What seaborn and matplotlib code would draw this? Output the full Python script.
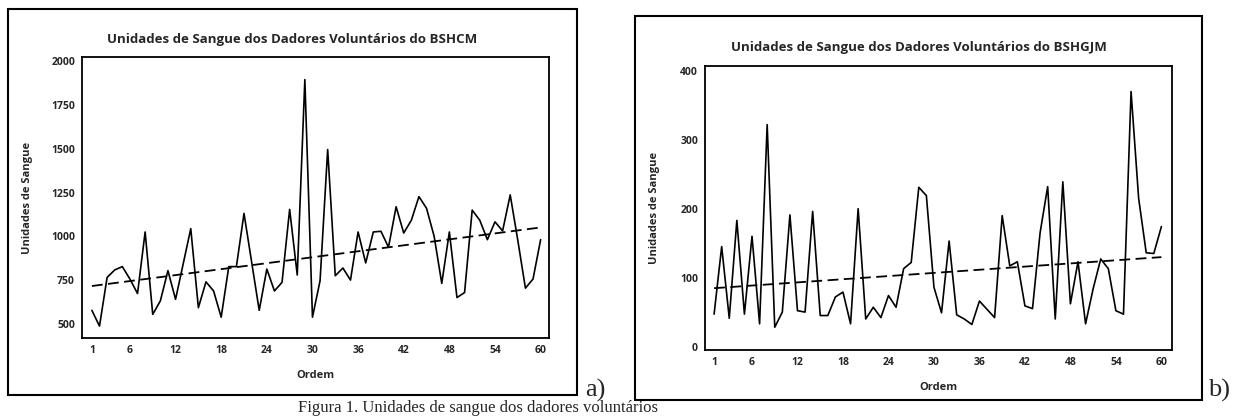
import numpy as np
import pandas as pd
import matplotlib
matplotlib.use("Agg")
import matplotlib.pyplot as plt
import seaborn as sns
from matplotlib.patches import Rectangle

# ---------------- data ----------------
ordem = list(range(1, 61))

sangue_bshcm = [577, 487, 765, 808, 827, 756, 673, 1025, 554, 631,
                804, 640, 842, 1044, 592, 740, 688, 538, 827, 827,
                1131, 854, 577, 813, 688, 737, 1154, 779, 1896, 538,
                746, 1496, 775, 819, 750, 1025, 848, 1025, 1029, 938,
                1169, 1019, 1092, 1227, 1160, 1000, 731, 1025, 650, 679,
                1150, 1092, 981, 1083, 1031, 1237, 977, 704, 756, 981]

sangue_bshgjm = [47, 145, 41, 183, 47, 160, 33, 322, 28, 50,
                 191, 52, 50, 196, 45, 45, 72, 79, 33, 200,
                 40, 57, 42, 74, 57, 113, 122, 231, 219, 86,
                 49, 153, 46, 40, 32, 66, 54, 42, 190, 117,
                 123, 59, 55, 165, 232, 40, 239, 62, 123, 33,
                 84, 127, 113, 52, 47, 370, 215, 136, 135, 174]

titulo_a = "Unidades de Sangue dos Dadores Voluntários do BSHCM"
titulo_b = "Unidades de Sangue dos Dadores Voluntários do BSHGJM"
xticks = [1, 6, 12, 18, 24, 30, 36, 42, 48, 54, 60]
yticks_a = [500, 750, 1000, 1250, 1500, 1750, 2000]
yticks_b = [0, 100, 200, 300, 400]
legenda_fig = "Figura 1. Unidades de sangue dos dadores voluntários"

# ---------------- style ----------------
sns.set_style("white")
plt.rcParams["font.family"] = ["Open Sans", "DejaVu Sans"]

W, H = 1239, 418
fig = plt.figure(figsize=(W / 100, H / 100), dpi=100)
fig.patch.set_facecolor("white")

axa = fig.add_axes([82 / W, 1 - 338 / H, 467 / W, 281 / H])
axb = fig.add_axes([705 / W, 1 - 350 / H, 467 / W, 284 / H])


def painel(ax, valores, ylim, yticks, xlim, ylab_x, xlab_y):
    df = pd.DataFrame({"Ordem": ordem, "Unidades de Sangue": valores})
    sns.lineplot(data=df, x="Ordem", y="Unidades de Sangue", ax=ax,
                 color="black", lw=1.2)
    sns.regplot(data=df, x="Ordem", y="Unidades de Sangue", ax=ax,
                scatter=False, ci=None, color="black",
                line_kws=dict(ls=(0, (6, 3)), lw=1.3))
    ax.set_xlim(*xlim)
    ax.set_ylim(*ylim)
    ax.set_xticks(xticks)
    ax.set_yticks(yticks)
    for s in ax.spines.values():
        s.set_visible(True)
        s.set_color("black")
        s.set_linewidth(1.3)
    ax.tick_params(axis="both", direction="out", length=3, width=1,
                   color="black", labelsize=7.5, pad=2)
    for lab in ax.get_xticklabels() + ax.get_yticklabels():
        lab.set_fontweight("bold")
    ax.set_xlabel("Ordem", fontsize=8, fontweight="bold")
    ax.set_ylabel("Unidades de Sangue", fontsize=8, fontweight="bold")
    ax.yaxis.set_label_coords(ylab_x, 0.5)
    ax.xaxis.set_label_coords(0.5, xlab_y)


painel(axa, sangue_bshcm, (419, 2025), yticks_a, (-0.3, 61.1), -0.105, -0.114)
painel(axb, sangue_bshgjm, (-5, 407), yticks_b, (-0.2, 61.4), -0.096, -0.113)

# titles (centred on each figure frame)
fig.text(292 / W, 1 - 40 / H, titulo_a, ha="center", va="center",
         fontsize=9.5, fontweight="bold")
fig.text(919 / W, 1 - 47 / H, titulo_b, ha="center", va="center",
         fontsize=9.5, fontweight="bold")

# frames around each graph
fig.add_artist(Rectangle((8 / W, 1 - 395 / H), 569 / W, 386 / H,
                         transform=fig.transFigure, fill=False,
                         ec="black", lw=1.5))
fig.add_artist(Rectangle((635 / W, 1 - 400 / H), 567 / W, 384 / H,
                         transform=fig.transFigure, fill=False,
                         ec="black", lw=1.5))

# panel letters and caption
fig.text(585 / W, 1 - 397 / H, "a)", ha="left", va="baseline",
         fontsize=19, family="Liberation Serif")
fig.text(1208 / W, 1 - 397 / H, "b)", ha="left", va="baseline",
         fontsize=19, family="Liberation Serif")
fig.text(298 / W, 1 - 416 / H, legenda_fig, ha="left", va="bottom",
         fontsize=12, family="Liberation Serif")

fig.savefig("out.png", dpi=100, facecolor="white")
